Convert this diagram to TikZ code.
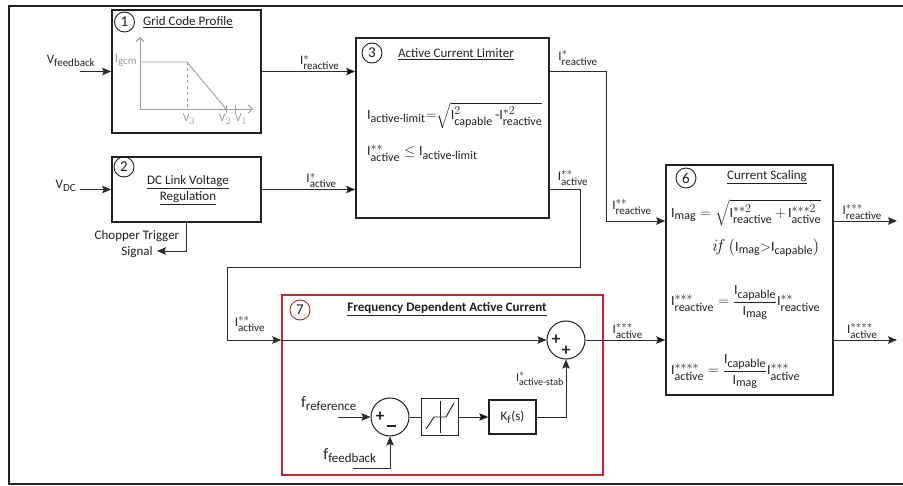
\documentclass[tikz,border=0pt]{standalone}
\usepackage{fontspec}
\setmainfont{Carlito}
\usepackage{amsmath}
\usetikzlibrary{positioning}
\usetikzlibrary{arrows.meta}
\DeclareMathSizes{12}{12}{10}{7.5}
\DeclareMathSizes{13}{13}{11}{8.5}
\DeclareMathSizes{14}{14}{12}{9}
\DeclareMathSizes{16}{16}{13}{9.5}
\definecolor{ink}{HTML}{231F20}
\definecolor{wire}{HTML}{2B2B2B}
\definecolor{axisgray}{HTML}{9D9D9D}
\definecolor{redbox}{HTML}{C1272D}
\newcommand{\Icur}[2]{\ensuremath{\text{I}^{#1}_{\text{#2}}}}
\newcommand{\Isub}[1]{\ensuremath{\text{I}_{\text{#1}}}}

\begin{document}
\begin{tikzpicture}[
        x=1pt, y=-1pt,
        >={Stealth[length=9pt,width=7.5pt,inset=1.5pt]},
        font=\fontsize{13}{16}\selectfont,
        every node/.style={text=ink},
        blocknode/.style={rectangle, draw=ink, line width=1.6pt, inner sep=0pt},
        numnode/.style={circle, draw=ink, line width=0.9pt, minimum size=20pt, inner sep=0pt, font=\fontsize{15}{15}\selectfont},
        sumnode/.style={circle, draw=ink, line width=1pt, minimum size=38pt, inner sep=0pt},
        signnode/.style={inner sep=0pt, font=\fontsize{17}{17}\selectfont\bfseries},
        lbl/.style={inner sep=1pt},
        eqn/.style={inner sep=1pt, font=\fontsize{14}{16}\selectfont},
        graylbl/.style={inner sep=0pt, text=axisgray, font=\fontsize{12}{14}\selectfont},
        wire/.style={draw=wire, line width=0.9pt}
    ]

    \useasboundingbox (0,0) rectangle (903,486);
    \draw[draw=ink, line width=1.6pt] (903,6) -- (9,6) -- (9,484) -- (903,484);

    % blocks
    \node[blocknode, minimum width=149pt, minimum height=123pt] (Block1) at (186.5,71.5) {};
    \node[blocknode, minimum width=149pt, minimum height=65pt] (Block2) at (186.5,189.5) {};
    \node[blocknode, minimum width=193pt, minimum height=180pt] (Block3) at (452.5,128) {};
    \node[blocknode, minimum width=167pt, minimum height=230pt] (Block6) at (749.5,280) {};
    \node[blocknode, draw=redbox, minimum width=321pt, minimum height=180pt] (Block7) at (442.5,385) {};

    % block 1: grid code profile
    \node[numnode] (Num1) at (124.5,22) {1};
    \node[lbl] (Title1) at (188,22) {\underline{Grid Code Profile}};
    \draw[axisgray, line width=0.9pt, -{Straight Barb[length=4pt,width=8pt]}] (140,109) -- (140,37);
    \draw[axisgray, line width=0.9pt, -{Straight Barb[length=4pt,width=8pt]}] (140,109) -- (253,109);
    \draw[axisgray, line width=0.9pt] (140,62) -- (187,62) -- (226,109);
    \draw[axisgray, line width=0.7pt, dashed] (187,62) -- (187,109);
    \draw[axisgray, line width=0.7pt] (226,105) -- (226,113);
    \draw[axisgray, line width=0.7pt] (235,105) -- (235,113);
    \node[graylbl, font=\fontsize{13}{15}\selectfont] (Igcm) at (126,60) {$\text{I}_{\text{gcm}}$};
    \node[graylbl] (V3) at (189,119) {$\text{V}_{3}$};
    \node[graylbl] (V2) at (225,119) {$\text{V}_{2}$};
    \node[graylbl] (V1) at (241,119) {$\text{V}_{1}$};

    % block 2: dc link
    \node[numnode] (Num2) at (124,167) {2};
    \node[lbl, align=center] (Title2) at (188,190) {\underline{DC Link Voltage}\\\underline{Regulation}};

    % block 3: limiter
    \node[numnode] (Num3) at (372,53) {3};
    \node[lbl] (Title3) at (456,54) {\underline{Active Current Limiter}};
    \node[eqn, anchor=west] (Lim1) at (366,116) {$\Isub{active-limit}{=}\sqrt{\Icur{2}{capable}\,\text{-}\Icur{*2}{reactive}}$};
    \node[eqn, anchor=west] (Lim2) at (366,153) {$\Icur{**}{active} \le \Isub{active-limit}$};

    % block 6: current scaling
    \node[numnode] (Num6) at (686,178) {6};
    \node[lbl] (Title6) at (767,177) {\underline{Current Scaling}};
    \node[eqn, anchor=west] (Mag) at (670,213) {$\Isub{mag} = \sqrt{\Icur{**2}{reactive}\,{+}\,\Icur{***2}{active}}$};
    \node[eqn] (Cond) at (766,248) {$\text{\fontsize{18}{18}\selectfont$i\mkern-3mu f$}\ \big(\Isub{mag}{>}\Isub{capable}\big)$};
    \node[eqn, anchor=west] (ScR) at (670,303) {$\Icur{***}{reactive} = \dfrac{\Isub{capable}}{\Isub{mag}}\Icur{**}{reactive}$};
    \node[eqn, anchor=west] (ScA) at (670,372) {$\Icur{****}{active} = \dfrac{\Isub{capable}}{\Isub{mag}}\Icur{***}{active}$};

    % block 7: frequency loop
    \node[numnode, draw=redbox] (Num7) at (300,310) {7};
    \node[lbl, font=\fontsize{13}{15}\selectfont\bfseries] (Title7) at (447,309) {\underline{Frequency Dependent Active Current}};
    \node[sumnode] (Sum1) at (566,340) {};
    \node[signnode] (Sum1a) at ([xshift=-10pt]Sum1.center) {+};
    \node[signnode] (Sum1b) at ([yshift=-11pt]Sum1.center) {+};
    \node[sumnode] (Sum2) at (390,417) {};
    \node[signnode] (Sum2a) at ([xshift=-10pt]Sum2.center) {+};
    \node[signnode] (Sum2b) at ([xshift=1pt,yshift=-9pt]Sum2.center) {\rule{9pt}{2pt}};
    \node[blocknode, line width=1.4pt, minimum size=37pt] (Dead) at (440,417) {};
    \draw[ink, line width=0.9pt] (426,429) -- (434,417) -- (446,417) -- (454,403);
    \draw[ink, line width=0.9pt] (440,401) -- (440,433);
    \node[blocknode, line width=1.4pt, minimum width=47pt, minimum height=34pt] (Kf) at (512.5,417) {$\text{K}_{\text{f}}\text{(s)}$};

    % inputs
    \coordinate (VfbIn) at (80,71.5);
    \node[lbl] (VfbLbl) at (71,61) {$\text{V}_{\text{feedback}}$};
    \draw[wire,->] (VfbIn) -- (VfbIn -| Block1.west);
    \coordinate (VdcIn) at (80,189.5);
    \node[lbl] (VdcLbl) at (66,186) {$\text{V}_{\text{DC}}$};
    \draw[wire,->] (VdcIn) -- (VdcIn -| Block2.west);
    \coordinate (ChopOut) at (157,251);
    \draw[wire,->] (Block2.south) |- (ChopOut);
    \node[lbl, align=center, font=\fontsize{13}{15.5}\selectfont] (ChopLbl) at (137,244) {Chopper Trigger\\Signal};

    % block 1,2 to limiter
    \path[wire,->] (Block1) edge node[lbl, above, pos=.62] (LblR0) {\Icur{*}{reactive}} (Block1 -| Block3.west);
    \path[wire,->] (Block2) edge node[lbl, above, pos=.64] (LblA0) {\Icur{*}{active}} (Block2 -| Block3.west);

    % limiter outputs
    \coordinate (TurnR) at (606,221);
    \draw[wire,->] (Block3.east |- Block1) -| (TurnR) -- (TurnR -| Block6.west);
    \node[lbl] (LblR1) at (578,58) {\Icur{*}{reactive}};
    \node[lbl] (LblR2) at (632,207) {\Icur{**}{reactive}};
    \coordinate (TurnA) at (580,267);
    \coordinate (TurnB) at (227,267);
    \draw[wire,->] (Block3.east |- Block2) -| (TurnA) -- (TurnB) |- (Block7.west |- Sum1);
    \draw[wire,->] (Block7.west |- Sum1) -- (Sum1);
    \node[lbl] (LblA1) at (573,178) {\Icur{**}{active}};
    \node[lbl] (LblA2) at (250,324) {\Icur{**}{active}};

    % frequency loop wiring
    \coordinate (FrefIn) at (338,417);
    \node[lbl, font=\fontsize{16}{18}\selectfont] (FrefLbl) at (329,404) {$\text{f}_{\text{reference}}$};
    \draw[wire,->] (FrefIn) -- (Sum2);
    \coordinate (FfbIn) at (353,468);
    \node[lbl, font=\fontsize{16}{18}\selectfont] (FfbLbl) at (350,456) {$\text{f}_{\text{feedback}}$};
    \draw[wire,->] (FfbIn) -| (Sum2.south);
    \draw[wire] (Sum2) -- (Dead);
    \path[wire,->] (Dead) edge (Kf);
    \draw[wire,->] (Kf) -| (Sum1.south);
    \node[lbl, anchor=east, font=\fontsize{12}{14}\selectfont] (StabLbl) at (565,379) {\Icur{*}{active-stab}};

    % to current scaling and outputs
    \path[wire,->] (Sum1) edge node[lbl, above, pos=.53] (LblA3) {\Icur{***}{active}} (Sum1 -| Block6.west);
    \coordinate (OutR) at (897,221);
    \coordinate (OutA) at (897,340);
    \draw[wire,->] (Block6.east |- OutR) -- node[lbl, above, pos=.45] (LblR3) {\Icur{***}{reactive}} (OutR);
    \draw[wire,->] (Block6.east |- OutA) -- node[lbl, above, pos=.45] (LblA4) {\Icur{****}{active}} (OutA);

\end{tikzpicture}
\end{document}
